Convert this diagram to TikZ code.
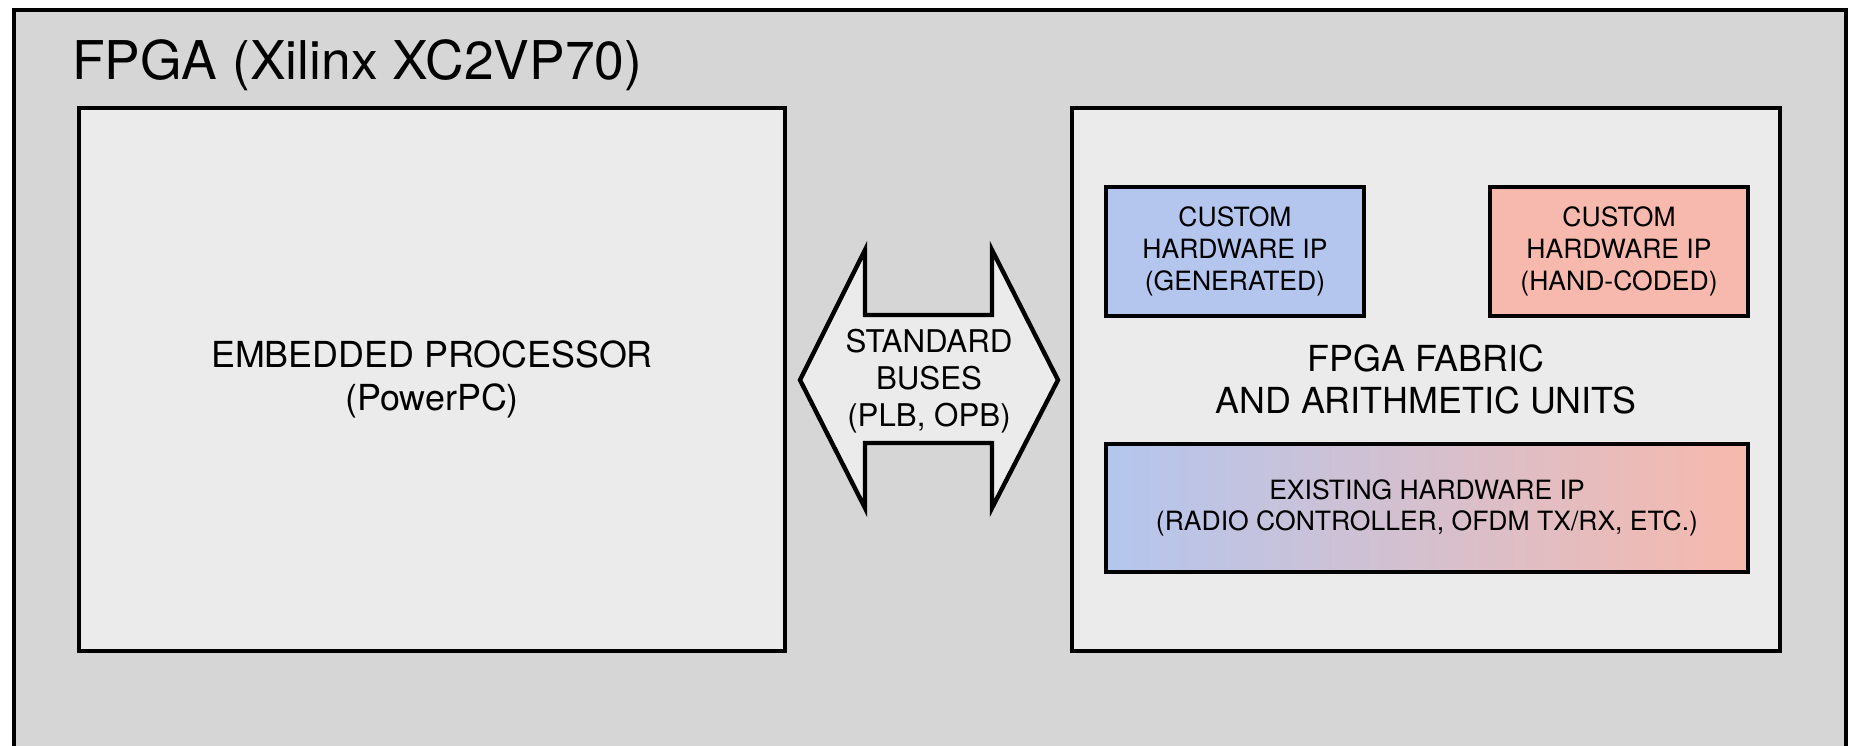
\documentclass[tikz,border=0pt]{standalone}
\usepackage{fontspec}
\setmainfont{TeX Gyre Heros}
\definecolor{chipgray}{HTML}{D6D6D6}
\definecolor{panel}{HTML}{EBEBEB}
\definecolor{genblue}{HTML}{B4C6EE}
\definecolor{handred}{HTML}{F7B9AD}
\begin{document}
\begin{tikzpicture}[x=0.02cm, y=-0.02cm,
  block/.style={draw, line width=2.5pt, fill=panel, inner sep=0pt, align=center,
    font=\fontsize{20.4}{24.2}\selectfont},
  ipbox/.style={block, minimum height=2.58cm, font=\fontsize{15.1}{18}\selectfont}]
\useasboundingbox (0,0) rectangle (1851,746);
\clip (0,0) rectangle (1851,746);
% ---------- the chip ----------
\fill[chipgray] (14,10) rectangle (1846,780);
\draw[line width=2.2pt] (14,780) -- (14,10) -- (1846,10) -- (1846,780);
\node[anchor=base west, inner sep=0pt, font=\fontsize{30.4}{36}\selectfont] (chip) at (72,80) {FPGA (Xilinx XC2VP70)};
% ---------- left: processor ----------
\node[block, minimum width=14.12cm, minimum height=10.86cm] (cpu) at (432,379.5) {EMBEDDED PROCESSOR\\(PowerPC)};
% ---------- right: fabric and its IP blocks ----------
\node[block, minimum width=14.16cm, minimum height=10.86cm] (fabric) at (1426,379.5) {FPGA FABRIC\\AND ARITHMETIC UNITS};
\node[ipbox, fill=genblue, minimum width=5.16cm] (genip) at (1235,251.5) {CUSTOM\\HARDWARE IP\\(GENERATED)};
\node[ipbox, fill=handred, minimum width=5.16cm] (handip) at (1619,251.5) {CUSTOM\\HARDWARE IP\\(HAND-CODED)};
\node[ipbox, left color=genblue, right color=handred, minimum width=12.84cm, minimum height=2.56cm] (oldip) at (1427,508) {EXISTING HARDWARE IP\\(RADIO CONTROLLER, OFDM TX/RX, ETC.)};
% ---------- the buses between them ----------
\coordinate (busl) at (800,380);
\coordinate (busr) at (1058,380);
\draw[line width=2.5pt, fill=panel] (busl) -- (865,250) -- (865,315) -- (992,315) -- (992,250) -- (busr)
  -- (992,508) -- (992,443) -- (865,443) -- (865,508) -- cycle;
\node[align=center, inner sep=0pt, font=\fontsize{17.8}{21.2}\selectfont] (bus) at (929,381) {STANDARD\\BUSES\\(PLB, OPB)};
\end{tikzpicture}
\end{document}
